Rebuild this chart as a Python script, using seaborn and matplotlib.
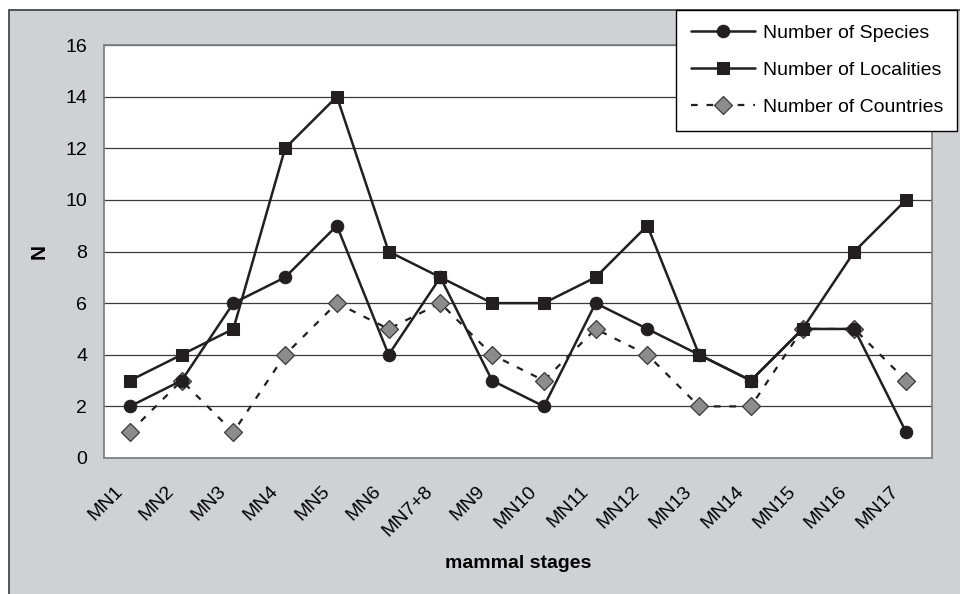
import numpy as np
import pandas as pd
import matplotlib
matplotlib.use("Agg")
import matplotlib.pyplot as plt
from matplotlib.patches import Rectangle
from matplotlib.transforms import ScaledTranslation
import seaborn as sns

# chart data
stages = ["MN1", "MN2", "MN3", "MN4", "MN5", "MN6", "MN7+8", "MN9", "MN10",
          "MN11", "MN12", "MN13", "MN14", "MN15", "MN16", "MN17"]
species = [2, 3, 6, 7, 9, 4, 7, 3, 2, 6, 5, 4, 3, 5, 5, 1]
localities = [3, 4, 5, 12, 14, 8, 7, 6, 6, 7, 9, 4, 3, 5, 8, 10]
countries = [1, 3, 1, 4, 6, 5, 6, 4, 3, 5, 4, 2, 2, 5, 5, 3]

sns.set_style("white")
plt.rcParams['font.family'] = ['Liberation Sans', 'DejaVu Sans']
plt.rcParams['text.color'] = 'black'
plt.rcParams['xtick.color'] = 'black'
plt.rcParams['ytick.color'] = 'black'
plt.rcParams['axes.labelcolor'] = 'black'

df = pd.DataFrame({
    "pos": np.arange(len(stages)),
    "stage": stages,
    "Number of Species": species,
    "Number of Localities": localities,
    "Number of Countries": countries,
})

fig = plt.figure(figsize=(9.6, 5.94), dpi=100)
fig.patch.set_facecolor("white")

# grey chart area with border (Excel style)
bg = Rectangle((9 / 960, -0.01), 1.0, 1 - 10 / 594 + 0.01, transform=fig.transFigure,
               facecolor="#d0d1d3", edgecolor="#3a3a3a", linewidth=1.2, zorder=-5)
fig.patches.append(bg)

ax = fig.add_axes([104 / 960, 1 - 458 / 594, (932 - 104) / 960, (458 - 45) / 594])
ax.set_zorder(1)
ax.set_facecolor("white")

line_col = "#231f20"
sns.lineplot(data=df, x="pos", y="Number of Species", ax=ax, color=line_col,
             linewidth=1.8, marker="o", markersize=9, markeredgecolor=line_col,
             markerfacecolor=line_col, label="Number of Species", zorder=4)
sns.lineplot(data=df, x="pos", y="Number of Localities", ax=ax, color=line_col,
             linewidth=1.8, marker="s", markersize=9, markeredgecolor=line_col,
             markerfacecolor=line_col, label="Number of Localities", zorder=3)
sns.lineplot(data=df, x="pos", y="Number of Countries", ax=ax, color=line_col,
             linewidth=1.6, linestyle=(0, (3, 4)), marker="D", markersize=9,
             markeredgecolor="#3a3a3a", markerfacecolor="#8c8c8c",
             markeredgewidth=0.9, label="Number of Countries", zorder=2)

ax.set_xlim(-0.5, len(stages) - 0.5)
ax.set_ylim(0, 16)
ax.set_yticks(np.arange(0, 17, 2))
ax.yaxis.grid(True, color="#3a3a3a", linewidth=0.9)
ax.set_axisbelow(True)

# ticks between categories, labels under categories
ax.set_xticks(np.arange(-0.5, len(stages), 1.0))
ax.set_xticklabels([])
ax.set_xticks(np.arange(len(stages)), minor=True)
ax.set_xticklabels(stages, minor=True, rotation=45, ha="right",
                   rotation_mode="anchor", fontsize=14)
ax.tick_params(axis="x", which="major", length=6, width=1.2, color="#707070",
               direction="out")
ax.tick_params(axis="x", which="minor", length=0, pad=18)
ax.tick_params(axis="y", length=5, width=1.2, color="#707070", labelsize=14,
               direction="out", pad=7)
# nudge the rotated labels a little to the left, like Excel does
shift = ScaledTranslation(-16 / 100, 0, fig.dpi_scale_trans)
for lbl in ax.get_xticklabels(minor=True):
    lbl.set_transform(lbl.get_transform() + shift)

for s in ax.spines.values():
    s.set_color("#808080")
    s.set_linewidth(1.3)

ax.set_xlabel("mammal stages", fontsize=14, fontweight="bold", va="center")
ax.xaxis.set_label_coords(0.5, -(564 - 458) / 413)
ax.set_ylabel("N", fontsize=15, fontweight="bold", va="center", ha="center")
ax.yaxis.set_label_coords((39 - 104) / 828, 0.5)

ax.get_legend().remove()
handles, labels = ax.get_legend_handles_labels()
leg = fig.legend(handles, labels, loc="upper left",
                 bbox_to_anchor=(676 / 960, 1 - 10 / 594),
                 bbox_transform=fig.transFigure, fontsize=14, frameon=True,
                 fancybox=False, edgecolor="black", framealpha=1,
                 handlelength=3.3, handletextpad=0.4, labelspacing=1.0,
                 borderpad=0.75, borderaxespad=0)
leg.get_frame().set_linewidth(1.0)
leg.set_zorder(5)

fig.savefig("out.png", dpi=100)
